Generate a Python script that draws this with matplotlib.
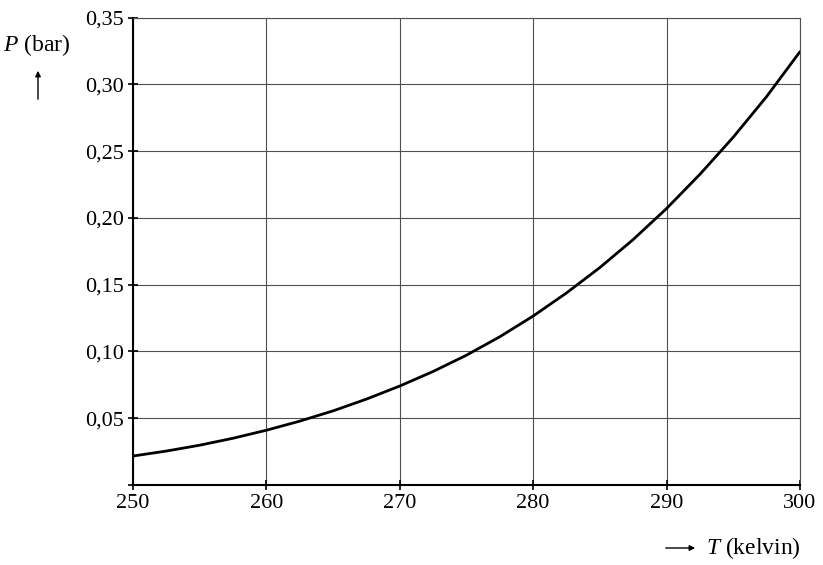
import numpy as np
import matplotlib
matplotlib.use("Agg")
import matplotlib.pyplot as plt

# values
temperature = [250, 252.5, 255, 257.5, 260, 262.5, 265, 267.5, 270, 272.5, 275,
               277.5, 280, 282.5, 285, 287.5, 290, 292.5, 295, 297.5, 300]
pressure = [0.0217, 0.0254, 0.0298, 0.0350, 0.0410, 0.0478, 0.0555, 0.0643, 0.0741,
            0.0850, 0.0972, 0.1110, 0.1265, 0.1438, 0.1628, 0.1838, 0.2070, 0.2326,
            0.2604, 0.2908, 0.3244]
x_ticks = [250, 260, 270, 280, 290, 300]
y_ticks = [0.0, 0.05, 0.10, 0.15, 0.20, 0.25, 0.30, 0.35]
y_labels = ["", "0,05", "0,10", "0,15", "0,20", "0,25", "0,30", "0,35"]

plt.rcParams['font.family'] = ['Liberation Serif', 'DejaVu Serif']
plt.rcParams['mathtext.fontset'] = 'custom'
plt.rcParams['mathtext.rm'] = 'Liberation Serif'
plt.rcParams['mathtext.it'] = 'Liberation Serif:italic'

fig = plt.figure(figsize=(8.23, 5.65), dpi=100)
ax = fig.add_axes([0.1616, 0.1416, 0.8104, 0.8274])

ax.plot(temperature, pressure, color='black', linewidth=2.0,
        solid_capstyle='round', solid_joinstyle='round')

ax.set_xlim(250, 300)
ax.set_ylim(0, 0.35)
ax.set_xticks(x_ticks)
ax.set_xticklabels([str(t) for t in x_ticks])
ax.set_yticks(y_ticks)
ax.set_yticklabels(y_labels)
ax.grid(True, color='#505050', linewidth=0.8)
ax.set_axisbelow(True)
for s in ax.spines.values():
    s.set_linewidth(0.8)
    s.set_color('#505050')
ax.spines['left'].set_color('black')
ax.spines['bottom'].set_color('black')
ax.spines['left'].set_linewidth(1.5)
ax.spines['bottom'].set_linewidth(1.5)
ax.tick_params(axis='both', direction='inout', length=7, width=1.2,
               labelsize=16, pad=3)

# axis labels with arrows
fig.text(3 / 823, 1 - 45 / 565, "$P$ (bar)", fontsize=17, va='center', ha='left')
fig.add_artist(matplotlib.patches.FancyArrowPatch(
    (38 / 823, 1 - 102 / 565), (38 / 823, 1 - 68 / 565),
    transform=fig.transFigure, arrowstyle='-|>', mutation_scale=8,
    color='black', linewidth=1.0))
fig.text(706 / 823, 1 - 548 / 565, "$T$ (kelvin)", fontsize=17, va='center', ha='left')
fig.add_artist(matplotlib.patches.FancyArrowPatch(
    (663 / 823, 1 - 548 / 565), (698 / 823, 1 - 548 / 565),
    transform=fig.transFigure, arrowstyle='-|>', mutation_scale=8,
    color='black', linewidth=1.0))

fig.savefig("out.png", dpi=100)
